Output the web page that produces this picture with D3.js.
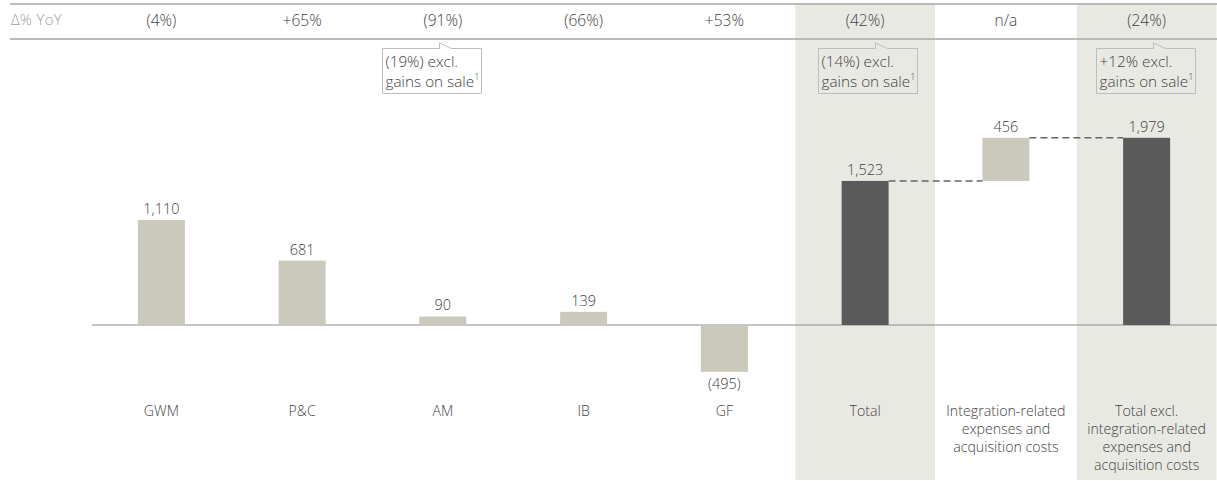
<!DOCTYPE html>
<html>
<head>
<meta charset="utf-8">
<script src="https://cdn.jsdelivr.net/npm/d3@7"></script>
<style>
  body { margin: 0; background: #fff; }
  svg { display: block; font-family: "Open Sans", "Noto Sans", sans-serif; font-weight: 300; }
</style>
</head>
<body>
<svg id="chart" width="1217" height="481"></svg>
<script>
// data
const categories = ["GWM", "P&C", "AM", "IB", "GF", "Total",
  "Integration-related expenses and acquisition costs",
  "Total excl. integration-related expenses and acquisition costs"];
const labelLines = [["GWM"], ["P&C"], ["AM"], ["IB"], ["GF"], ["Total"],
  ["Integration-related", "expenses and", "acquisition costs"],
  ["Total excl.", "integration-related", "expenses and", "acquisition costs"]];
const values = [1110, 681, 90, 139, -495, 1523, 456, 1979];
const barTypes = ["seg", "seg", "seg", "seg", "seg", "total", "delta", "total"];
const yoyLabels = ["(4%)", "+65%", "(91%)", "(66%)", "+53%", "(42%)", "n/a", "(24%)"];
const calloutCats = ["AM", "Total", "Total excl. integration-related expenses and acquisition costs"];
const calloutTexts = ["(19%)", "(14%)", "+12%"];
const shadedCats = ["Total", "Total excl. integration-related expenses and acquisition costs"];

const svg = d3.select("#chart");
const W = 1217, H = 481;

const x = d3.scaleBand().domain(categories).range([91, 1217]).padding(0);
const y = d3.scaleLinear().domain([0, 1979]).range([325, 137.8]);
const barW = 47;

const fmt = v => v < 0 ? "(" + d3.format(",")(-v) + ")" : d3.format(",")(v);

// compute bar extents (waterfall)
const bars = categories.map((c, i) => {
    let lo, hi;
    if (barTypes[i] === "delta") {
        lo = values[i - 1];
        hi = values[i - 1] + values[i];
    } else {
        lo = Math.min(0, values[i]);
        hi = Math.max(0, values[i]);
    }
    return {cat: c, val: values[i], type: barTypes[i], lo: lo, hi: hi, i: i};
});

// shaded bands
svg.selectAll(".shade")
    .data(shadedCats)
    .enter().append("rect")
    .attr("x", d => x(d) + 0.5)
    .attr("y", 4)
    .attr("width", x.bandwidth() - 1)
    .attr("height", H - 5)
    .attr("fill", "#e9e9e4");

// header rules
svg.append("line").attr("x1", 10).attr("x2", W).attr("y1", 4).attr("y2", 4)
    .attr("stroke", "#a6a6a6").attr("stroke-width", 1.5);
svg.append("line").attr("x1", 10).attr("x2", W).attr("y1", 39).attr("y2", 39)
    .attr("stroke", "#a6a6a6").attr("stroke-width", 1.5);

svg.append("text").attr("x", 11).attr("y", 25)
    .attr("font-size", 15).attr("letter-spacing", 0.3)
    .attr("fill", "#a0a0a0").text("Δ% YoY");

svg.selectAll(".yoy")
    .data(categories)
    .enter().append("text")
    .attr("x", d => x(d) + x.bandwidth() / 2)
    .attr("y", 26)
    .attr("text-anchor", "middle")
    .attr("font-size", 15.5)
    .attr("fill", "#3f3f3f")
    .text((d, i) => yoyLabels[i]);

// callouts
const calloutDx = [-60.5, -47, -51];
const bw = 99, bh = 45, by = 48.5;
calloutCats.forEach((c, k) => {
    const bx = Math.round(x(c) + x.bandwidth() / 2 + calloutDx[k]) + 0.5;
    const px = bx + 57;
    const g = svg.append("g");
    g.append("path")
        .attr("d", `M${bx},${by} H${px} V${by - 5.5} L${px + 12},${by} H${bx + bw} V${by + bh} H${bx} Z`)
        .attr("fill", "none")
        .attr("stroke", "#bdbdbd")
        .attr("stroke-width", 1);
    const t = g.append("text").attr("font-size", 15.3).attr("fill", "#3f3f3f");
    t.append("tspan").attr("x", bx + 3).attr("y", by + 18).text(calloutTexts[k] + " excl.");
    t.append("tspan").attr("x", bx + 3).attr("y", by + 38).text("gains on sale");
    t.append("tspan").attr("font-size", 9).attr("dy", -7).text("1");
});

// baseline
svg.append("line").attr("x1", 92).attr("x2", W).attr("y1", y(0)).attr("y2", y(0))
    .attr("stroke", "#8c8c8c").attr("stroke-width", 1.2);

// bars
svg.selectAll(".bar")
    .data(bars)
    .enter().append("rect")
    .attr("class", "bar")
    .attr("x", d => x(d.cat) + x.bandwidth() / 2 - barW / 2)
    .attr("y", d => y(d.hi))
    .attr("width", barW)
    .attr("height", d => y(d.lo) - y(d.hi))
    .attr("fill", d => d.type === "total" ? "#5a5a5a" : "#cbc9bc");

// connectors
const conn = [[5, 6], [6, 7]];
conn.forEach(([a, b]) => {
    const level = bars[b].type === "delta" ? bars[b].lo : bars[a].hi;
    svg.append("line")
        .attr("x1", x(categories[a]) + x.bandwidth() / 2 + barW / 2)
        .attr("x2", x(categories[b]) + x.bandwidth() / 2 - barW / 2)
        .attr("y1", y(level)).attr("y2", y(level))
        .attr("stroke", "#666")
        .attr("stroke-width", 1.6)
        .attr("stroke-dasharray", "7,4");
});

// value labels
svg.selectAll(".val")
    .data(bars)
    .enter().append("text")
    .attr("x", d => x(d.cat) + x.bandwidth() / 2)
    .attr("y", d => d.val < 0 ? y(d.lo) + 17 : y(d.hi) - 6)
    .attr("text-anchor", "middle")
    .attr("font-size", 14.5)
    .attr("fill", "#3f3f3f")
    .text(d => fmt(d.val));

// category labels
const cl = svg.selectAll(".cat")
    .data(categories)
    .enter().append("text")
    .attr("text-anchor", "middle")
    .attr("font-size", 14.2)
    .attr("fill", "#3f3f3f");
cl.each(function (d, i) {
    const t = d3.select(this);
    labelLines[i].forEach((ln, j) => {
        t.append("tspan")
            .attr("x", x(d) + x.bandwidth() / 2)
            .attr("y", 416 + j * 18)
            .text(ln);
    });
});
</script>
</body>
</html>
